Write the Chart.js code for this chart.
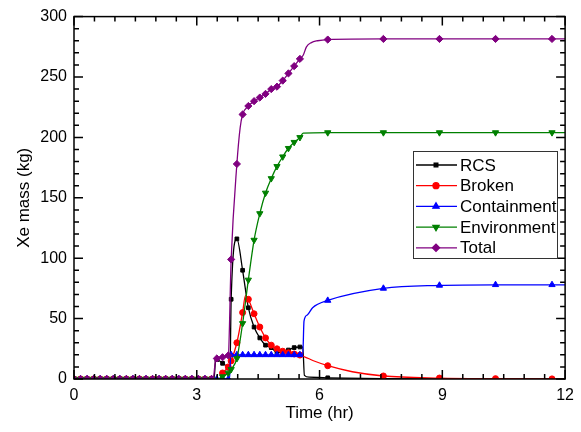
<!DOCTYPE html>
<html>
<head>
<meta charset="utf-8">
<script src="https://cdn.jsdelivr.net/npm/chart.js@4.4.1/dist/chart.umd.min.js"></script>
<style>
  html, body { margin: 0; padding: 0; background: #fff; }
  #wrap { width: 581px; height: 432px; }
</style>
</head>
<body>
<div id="wrap"><canvas id="grafico" width="581" height="432"></canvas></div>
<script>
// Series names (legend order)
const seriesNames = ["RCS", "Broken", "Containment", "Environment", "Total"];

// Flat part before the release: every series is zero here
const baseT = [0, 0.16, 0.32, 0.48, 0.64, 0.8, 0.96, 1.12, 1.28, 1.44, 1.6, 1.76, 1.92,
               2.08, 2.24, 2.4, 2.56, 2.72, 2.88, 3.04, 3.2, 3.36];
const baseV = [0, 0, 0, 0, 0, 0, 0, 0, 0, 0, 0, 0, 0, 0, 0, 0, 0, 0, 0, 0, 0, 0];

// Times where a symbol is drawn (other points only shape the curve)
const markerTimes = [3.49, 3.63, 3.77, 3.84, 3.98, 4.12, 4.26, 4.40, 4.54, 4.68, 4.82,
                     4.96, 5.10, 5.24, 5.38, 5.52, 6.2, 7.56, 8.93, 10.3, 11.68];

// RCS
const rcsT = [3.42, 3.46, 3.49, 3.63, 3.77, 3.81, 3.84, 3.98, 4.12, 4.26, 4.40, 4.54, 4.68,
              4.82, 4.96, 5.10, 5.24, 5.38, 5.52, 5.59, 5.63, 5.75, 6.2, 7.56, 8.93, 10.3, 11.68, 12];
const rcsV = [0, 15, 16, 13, 9, 6, 66, 116, 90, 59, 43, 34, 28,
              26, 22, 22, 24, 26, 26.5, 26.5, 3, 1.5, 1, 0.3, 0, 0, 0, 0];

// Broken
const brokenT = [3.55, 3.63, 3.77, 3.84, 3.98, 4.12, 4.19, 4.26, 4.40, 4.54, 4.68, 4.82, 4.96,
                 5.10, 5.24, 5.38, 5.52, 5.9, 6.2, 6.8, 7.56, 8.93, 10.3, 11.68, 12];
const brokenV = [0, 5, 10, 15, 30, 55, 69, 66, 54, 43, 34, 28, 25,
                 23, 21.7, 20.7, 19.8, 14.5, 11, 6, 2.5, 0.8, 0.3, 0.1, 0.1];

// Containment
const contT = [3.49, 3.63, 3.77, 3.80, 3.83, 3.84, 3.98, 4.12, 4.26, 4.40, 4.54, 4.68, 4.82,
               4.96, 5.10, 5.24, 5.38, 5.52, 5.59, 5.62, 5.7, 5.83, 6.2, 7.56, 8.93, 10.3, 11.68, 12];
const contV = [0, 0, 0, 0, 20, 20, 20, 20, 20, 20, 20, 20, 20,
               20, 20, 20, 20, 20, 20, 48, 53, 59, 65, 75, 77.5, 78, 78, 78];

// Environment
const envT = [3.52, 3.63, 3.77, 3.84, 3.98, 4.12, 4.26, 4.40, 4.54, 4.68, 4.82, 4.96, 5.10,
              5.24, 5.38, 5.52, 5.6, 6.2, 7.56, 8.93, 10.3, 11.68, 12];
const envV = [0, 2, 5, 8, 17, 46, 82, 115, 137, 154, 166, 176, 184,
              191, 196, 200, 203.5, 204, 204, 204, 204, 204, 204];

// Total
const totalT = [3.40, 3.46, 3.49, 3.63, 3.77, 3.84, 3.98, 4.06, 4.12, 4.26, 4.40, 4.54, 4.68,
                4.82, 4.96, 5.10, 5.24, 5.38, 5.52, 5.6, 5.68, 5.8, 5.95, 6.2, 7.56, 8.93, 10.3, 11.68, 12];
const totalV = [0, 16, 17, 18, 19.5, 99, 178, 208, 219, 226, 230, 233, 236,
                240, 242, 247, 253, 259, 265, 268, 275, 278.5, 280, 281, 281.5, 281.5, 281.5, 281.5, 281.5];

// Axis ticks
const xTicks = [0, 3, 6, 9, 12];
const yTicks = [0, 50, 100, 150, 200, 250, 300];

function toPoints(t, v) {
  const pts = baseT.map((x, i) => ({ x: x, y: baseV[i] }));
  t.forEach((x, i) => pts.push({ x: x, y: v[i] }));
  return pts;
}

function isMarker(t) {
  if (baseT.some(m => Math.abs(m - t) < 0.001)) return true;
  return markerTimes.some(m => Math.abs(m - t) < 0.001);
}

const estilos = [
  { cor: "#000000", ponto: "rect", raio: 2.6, rot: 0 },
  { cor: "#ff0000", ponto: "circle", raio: 3, rot: 0 },
  { cor: "#0000ff", ponto: "triangle", raio: 3.6, rot: 0 },
  { cor: "#008000", ponto: "triangle", raio: 3.6, rot: 180 },
  { cor: "#800080", ponto: "rectRot", raio: 3.6, rot: 0 }
];

const dadosSeries = [
  toPoints(rcsT, rcsV),
  toPoints(brokenT, brokenV),
  toPoints(contT, contV),
  toPoints(envT, envV),
  toPoints(totalT, totalV)
];

const datasets = seriesNames.map((nome, i) => ({
  label: nome,
  data: dadosSeries[i],
  borderColor: estilos[i].cor,
  backgroundColor: estilos[i].cor,
  borderWidth: 1.3,
  pointStyle: estilos[i].ponto,
  pointRotation: estilos[i].rot,
  pointBorderWidth: 1,
  pointRadius: ctx => (ctx.raw && isMarker(ctx.raw.x)) ? estilos[i].raio : 0,
  cubicInterpolationMode: "monotone",
  order: 5 - i,
  fill: false
}));

// Frame with inward ticks on all four sides
const moldura = {
  id: "moldura",
  afterDatasetsDraw(chart) {
    const c = chart.ctx, a = chart.chartArea;
    const sx = chart.scales.x, sy = chart.scales.y;
    c.save();
    c.strokeStyle = "#000";
    c.lineWidth = 1.5;
    c.strokeRect(a.left, a.top, a.right - a.left, a.bottom - a.top);
    c.beginPath();
    for (let v = 0; v <= 12.001; v += 0.5) {
      const px = sx.getPixelForValue(v);
      const len = (Math.abs(v % 3) < 0.01) ? 9 : 5;
      c.moveTo(px, a.bottom); c.lineTo(px, a.bottom - len);
      c.moveTo(px, a.top); c.lineTo(px, a.top + len);
    }
    for (let v = 0; v <= 300.001; v += 10) {
      const py = sy.getPixelForValue(v);
      const len = (v % 50 === 0) ? 9 : 5;
      c.moveTo(a.left, py); c.lineTo(a.left + len, py);
      c.moveTo(a.right, py); c.lineTo(a.right - len, py);
    }
    c.stroke();
    c.restore();
  }
};

// Legend box with line + symbol samples
const legenda = {
  id: "legenda",
  afterDraw(chart) {
    const c = chart.ctx;
    const bx = 413, by = 151, bw = 144, bh = 107;
    c.save();
    c.fillStyle = "#fff";
    c.fillRect(bx, by, bw, bh);
    c.strokeStyle = "#333";
    c.lineWidth = 1;
    c.strokeRect(bx + 0.5, by + 0.5, bw, bh);
    c.font = "17px 'Liberation Sans', Arial, sans-serif";
    c.textBaseline = "middle";
    seriesNames.forEach((nome, i) => {
      const y = 165 + i * 20.7;
      const e = estilos[i];
      c.strokeStyle = e.cor;
      c.lineWidth = 1.3;
      c.beginPath();
      c.moveTo(416, y); c.lineTo(457, y);
      c.stroke();
      c.fillStyle = e.cor;
      Chart.helpers.drawPoint(c, { pointStyle: e.ponto, radius: e.raio, rotation: e.rot, borderWidth: 1 }, 436, y);
      c.fillStyle = "#000";
      c.fillText(nome, 460, y + 1);
    });
    c.restore();
  }
};

const ctx = document.getElementById("grafico").getContext("2d");
new Chart(ctx, {
  type: "line",
  data: { datasets: datasets },
  options: {
    responsive: false,
    animation: false,
    layout: { padding: { top: 16, right: 11, left: 0, bottom: 0 } },
    scales: {
      x: {
        type: "linear",
        min: 0, max: 12,
        afterFit(s) { s.height = 53; },
        afterBuildTicks(s) { s.ticks = xTicks.map(v => ({ value: v })); },
        grid: { display: false, drawTicks: false },
        border: { display: false },
        ticks: { color: "#000", padding: 7, font: { size: 16, family: "'Liberation Sans', Arial, sans-serif" } },
        title: {
          display: true, text: "Time (hr)", color: "#000",
          padding: { top: 0, bottom: 8 },
          font: { size: 17, family: "'Liberation Sans', Arial, sans-serif" }
        }
      },
      y: {
        type: "linear",
        min: 0, max: 300,
        afterFit(s) { s.width = 74; },
        afterBuildTicks(s) { s.ticks = yTicks.map(v => ({ value: v })); },
        grid: { display: false, drawTicks: false },
        border: { display: false },
        ticks: { color: "#000", padding: 7, font: { size: 16, family: "'Liberation Sans', Arial, sans-serif" } },
        title: {
          display: true, text: "Xe mass (kg)", color: "#000",
          padding: { top: 14, bottom: 0 },
          font: { size: 17, family: "'Liberation Sans', Arial, sans-serif" }
        }
      }
    },
    plugins: {
      legend: { display: false },
      tooltip: { enabled: false }
    }
  },
  plugins: [moldura, legenda]
});
</script>
</body>
</html>
